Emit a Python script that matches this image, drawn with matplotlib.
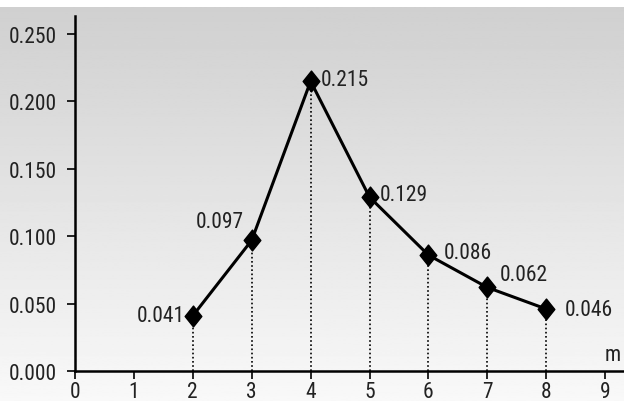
import numpy as np
import matplotlib
matplotlib.use("Agg")
import matplotlib.pyplot as plt
from matplotlib import font_manager
from matplotlib.font_manager import FontProperties
from matplotlib.path import Path

# Data
m_values = [2, 3, 4, 5, 6, 7, 8]
probabilities = [0.041, 0.097, 0.215, 0.129, 0.086, 0.062, 0.046]
value_labels = ["0.041", "0.097", "0.215", "0.129", "0.086", "0.062", "0.046"]
x_ticks = [0, 1, 2, 3, 4, 5, 6, 7, 8, 9]
y_ticks = [0.0, 0.05, 0.10, 0.15, 0.20, 0.25]
y_tick_labels = ["0.000", "0.050", "0.100", "0.150", "0.200", "0.250"]

# pick a condensed font if one exists
cand = None
prefs = ["LiberationSansNarrow-Regular", "RobotoCondensed-Regular", "OpenSansCondensed",
         "DejaVuSansCondensed.ttf", "Roboto_Condensed", "NotoSans-Condensed"]
files = [f.fname for f in font_manager.fontManager.ttflist]
for p in prefs:
    hits = [f for f in files if p.lower() in f.lower()]
    if hits:
        cand = hits[0]
        break
if cand:
    FP = lambda size: FontProperties(fname=cand, size=size)
    base_size = 15.5
else:
    FP = lambda size: FontProperties(family=["Liberation Sans", "DejaVu Sans"], size=size)
    base_size = 14

fig = plt.figure(figsize=(6.24, 4.02), dpi=100)
fig.patch.set_facecolor("white")

# gradient background
bg = fig.add_axes([0, 0, 1, 1 - 8 / 402], zorder=-10)
grad = np.linspace(0.975, 0.815, 256).reshape(-1, 1)
bg.imshow(grad, aspect="auto", cmap="gray", vmin=0, vmax=1, origin="lower",
          extent=[0, 1, 0, 1])
bg.axis("off")

ax = fig.add_axes([75 / 624, 30 / 402, 549 / 624, 355 / 402])
ax.patch.set_alpha(0)
ax.set_xlim(0, 9.32)
ax.set_ylim(0, 0.2634)

for s in ["top", "right"]:
    ax.spines[s].set_visible(False)
for s in ["left", "bottom"]:
    ax.spines[s].set_linewidth(1.8)
    ax.spines[s].set_color("black")

ax.set_xticks(x_ticks)
ax.set_yticks(y_ticks)
ax.set_yticklabels(y_tick_labels)
ax.tick_params(axis="both", direction="out", length=6, width=1.2, colors="black",
               labelcolor="#222222")
ax.tick_params(axis="y", pad=7)
ax.tick_params(axis="x", pad=1)
for lab in ax.get_xticklabels() + ax.get_yticklabels():
    lab.set_fontproperties(FP(base_size))

# dotted drop lines
ax.vlines(m_values, 0, probabilities, colors="black", linestyles=(0, (1, 1.5)), linewidth=1.2, zorder=2)

diamond = Path([(0, 1), (0.8, 0), (0, -1), (-0.8, 0), (0, 1)],
               [Path.MOVETO, Path.LINETO, Path.LINETO, Path.LINETO, Path.CLOSEPOLY])
ax.plot(m_values, probabilities, color="black", linewidth=2.2, marker=diamond,
        markersize=15, zorder=3)

offsets = [(-6, 0, "right", "center"), (-6, 6, "right", "bottom"),
           (7, 1, "left", "center"), (7, 2, "left", "center"),
           (11, 2, "left", "center"), (9, 9, "left", "center"),
           (13, 0, "left", "center")]
for x, y, lab, (dx, dy, ha, va) in zip(m_values, probabilities, value_labels, offsets):
    ax.annotate(lab, (x, y), xytext=(dx, dy), textcoords="offset points",
                ha=ha, va=va, fontproperties=FP(base_size), color="#222222")

ax.text(9.12, 0.0126, "m", ha="center", va="center", fontproperties=FP(base_size), color="#222222")

fig.savefig("out.png", dpi=100)
